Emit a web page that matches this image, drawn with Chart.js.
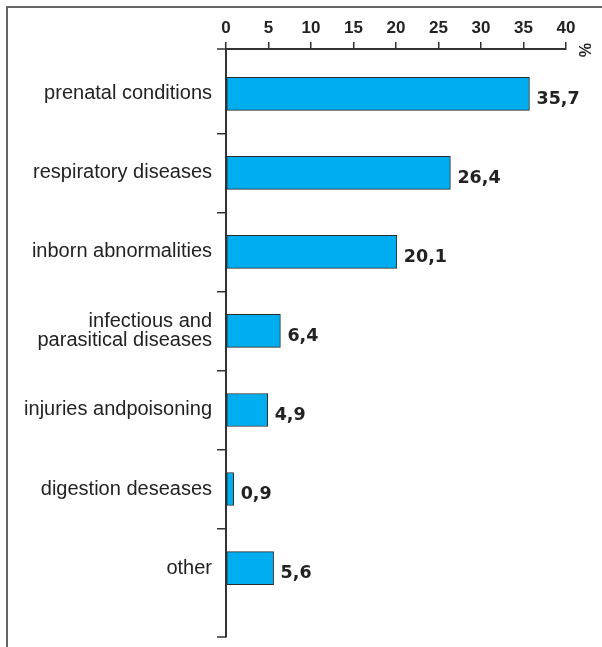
<!DOCTYPE html>
<html>
<head>
<meta charset="utf-8">
<script src="https://cdn.jsdelivr.net/npm/chart.js@4"></script>
<style>
html,body{margin:0;padding:0;background:#fff;}
#wrap{width:602px;height:647px;position:relative;}
</style>
</head>
<body>
<div id="wrap"><canvas id="c" width="602" height="647"></canvas></div>
<script>
const categories = [
  'prenatal conditions',
  'respiratory diseases',
  'inborn abnormalities',
  ['infectious and', 'parasitical diseases'],
  'injuries andpoisoning',
  'digestion deseases',
  'other'
];
const values = [35.7, 26.4, 20.1, 6.4, 4.9, 0.9, 5.6];
const xTicks = [0, 5, 10, 15, 20, 25, 30, 35, 40];
const unitLabel = '%';

const decor = {
  id: 'decor',
  beforeDraw(chart) {
    const ctx = chart.ctx;
    ctx.save();
    ctx.strokeStyle = '#666';
    ctx.lineWidth = 2;
    ctx.beginPath();
    ctx.moveTo(7, 647); ctx.lineTo(7, 7); ctx.lineTo(602, 7);
    ctx.stroke();
    ctx.restore();
  },
  afterDraw(chart) {
    const ctx = chart.ctx;
    const a = chart.chartArea;
    ctx.save();
    ctx.strokeStyle = '#333';
    ctx.lineWidth = 1.5;
    ctx.beginPath();
    ctx.moveTo(a.left - 9, a.top); ctx.lineTo(a.left, a.top);
    ctx.moveTo(a.left - 9, a.bottom); ctx.lineTo(a.left, a.bottom);
    ctx.stroke();
    ctx.fillStyle = '#222';
    ctx.font = 'bold 16px "Liberation Sans", Arial, sans-serif';
    ctx.translate(a.right + 17, a.top + 1);
    ctx.rotate(Math.PI / 2);
    ctx.textAlign = 'center';
    ctx.textBaseline = 'middle';
    ctx.fillText(unitLabel, 0, 0);
    ctx.restore();
  },
  afterDatasetsDraw(chart) {
    const ctx = chart.ctx;
    const meta = chart.getDatasetMeta(0);
    ctx.save();
    ctx.fillStyle = '#222';
    ctx.font = 'bold 17.5px "DejaVu Sans", sans-serif';
    ctx.textAlign = 'left';
    ctx.textBaseline = 'alphabetic';
    meta.data.forEach((bar, i) => {
      ctx.fillText(values[i].toFixed(1).replace('.', ','), bar.x + 7, bar.y + 10);
    });
    ctx.restore();
  }
};

new Chart(document.getElementById('c'), {
  type: 'bar',
  data: {
    labels: categories,
    datasets: [{
      data: values,
      backgroundColor: '#00AEEF',
      borderColor: '#2b2b2b',
      borderWidth: 1,
      borderSkipped: false,
      barThickness: 33
    }]
  },
  options: {
    indexAxis: 'y',
    responsive: false,
    animation: false,
    devicePixelRatio: 1,
    layout: { padding: { left: 0, top: 0, right: 36, bottom: 10 } },
    plugins: { legend: { display: false }, tooltip: { enabled: false } },
    scales: {
      x: {
        position: 'top',
        min: 0, max: 40,
        afterBuildTicks: (s) => { s.ticks = xTicks.map(v => ({ value: v })); },
        afterFit: (s) => { s.height = 49; s.paddingLeft = 0; s.paddingRight = 0; },
        border: { display: true, color: '#333', width: 2 },
        grid: { drawOnChartArea: false, drawTicks: true, tickLength: 7, color: '#333', lineWidth: 1.5 },
        ticks: {
          padding: 3,
          color: '#222',
          font: { family: '"Liberation Sans", Arial, sans-serif', size: 17, weight: 'bold' },
          maxRotation: 0
        }
      },
      y: {
        afterBuildTicks: (s) => {
          s._startValue = -0.5668;
          s._valueRange = 7.439;
        },
        afterFit: (s) => { s.width = 226; s.paddingTop = 0; s.paddingBottom = 0; },
        border: { display: true, color: '#333', width: 2 },
        grid: {
          offset: true,
          drawOnChartArea: false,
          drawTicks: true,
          tickLength: 9,
          lineWidth: 1.5,
          color: '#333',
          tickColor: (c) => (c.type !== 'tick' || c.index === 0) ? 'rgba(0,0,0,0)' : '#333'
        },
        ticks: {
          padding: 5,
          color: '#222',
          font: { family: '"Liberation Sans", Arial, sans-serif', size: 20, lineHeight: 0.97 }
        }
      }
    }
  },
  plugins: [decor]
});
</script>
</body>
</html>
